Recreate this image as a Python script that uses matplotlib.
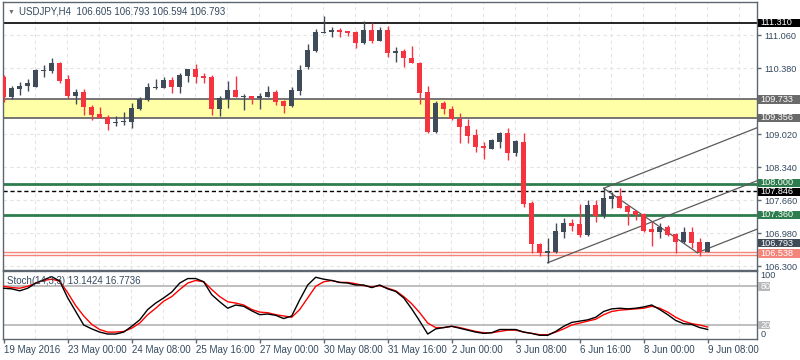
import matplotlib
matplotlib.use("Agg")
import matplotlib.pyplot as plt
import matplotlib.transforms as mtransforms
from matplotlib.patches import Rectangle
import numpy as np

# -----------------------------
# Data (USDJPY H4)
# -----------------------------
opens = [110.202, 109.790, 109.949, 110.010, 109.992, 110.325, 110.319, 110.490, 110.155, 109.811,
         109.881, 109.585, 109.434, 109.367, 109.243, 109.264, 109.276, 109.537, 109.723, 109.963,
         109.976, 110.134, 109.996, 110.223, 110.360, 110.216, 110.190, 109.537, 109.737, 109.928,
         109.778, 109.805, 109.758, 109.790, 109.881, 109.702, 109.599, 109.914, 110.408, 110.737,
         111.107, 111.116, 111.163, 111.142, 111.116, 110.889, 111.163, 110.943, 111.163, 110.683,
         110.731, 110.581, 110.478, 109.881, 109.070, 109.667, 109.537, 109.332, 109.188, 109.002,
         108.776, 108.714, 108.864, 109.050, 108.626, 108.864, 107.597, 106.760, 106.568, 106.601,
         107.013, 107.185, 107.171, 106.945, 107.562, 107.336, 107.692, 107.753, 107.541, 107.445,
         107.377, 107.062, 107.013, 107.116, 106.959, 106.807, 107.007, 106.795, 106.605]
highs = [110.237, 110.010, 110.099, 110.155, 110.360, 110.443, 110.580, 110.504, 110.237, 109.943,
         109.943, 109.620, 109.585, 109.414, 109.393, 109.482, 109.655, 109.784, 110.078, 110.148,
         110.190, 110.190, 110.272, 110.360, 110.463, 110.284, 110.237, 109.805, 110.120, 110.216,
         109.846, 109.805, 109.860, 110.010, 109.928, 109.723, 109.984, 110.443, 110.875, 111.177,
         111.451, 111.218, 111.210, 111.142, 111.148, 111.348, 111.300, 111.231, 111.245, 110.819,
         110.766, 110.834, 110.511, 110.010, 109.702, 109.708, 109.599, 109.449, 109.325, 109.120,
         108.864, 108.914, 109.070, 109.140, 108.900, 109.037, 107.651, 106.774, 106.877, 107.185,
         107.301, 107.268, 107.582, 107.665, 107.665, 107.906, 107.836, 107.906, 107.562, 107.459,
         107.404, 107.219, 107.185, 107.150, 106.980, 107.116, 107.116, 106.877, 106.793]
lows = [109.687, 109.737, 109.825, 109.914, 109.990, 110.202, 110.284, 110.078, 109.770, 109.634,
        109.414, 109.311, 109.346, 109.105, 109.188, 109.208, 109.153, 109.517, 109.708, 109.943,
        109.963, 109.860, 109.873, 110.099, 110.066, 110.066, 109.414, 109.393, 109.552, 109.778,
        109.517, 109.640, 109.537, 109.784, 109.620, 109.461, 109.585, 109.825, 110.360, 110.716,
        111.107, 111.025, 111.025, 111.046, 110.786, 110.869, 110.889, 110.943, 110.601, 110.498,
        110.408, 110.478, 109.640, 109.050, 109.050, 109.435, 109.311, 108.832, 108.844, 108.659,
        108.509, 108.714, 108.741, 108.488, 108.576, 107.527, 106.581, 106.519, 106.375, 106.581,
        106.877, 107.033, 106.910, 106.924, 107.219, 107.288, 107.507, 107.507, 107.150, 107.253,
        107.013, 106.725, 106.877, 106.924, 106.581, 106.774, 106.671, 106.513, 106.594]
closes = [109.790, 109.963, 110.010, 110.078, 110.340, 110.340, 110.478, 110.113, 109.811, 109.887,
          109.585, 109.414, 109.346, 109.223, 109.276, 109.297, 109.552, 109.737, 109.990, 109.990,
          110.134, 109.996, 110.237, 110.360, 110.202, 110.181, 109.537, 109.758, 109.928, 109.778,
          109.805, 109.737, 109.805, 109.893, 109.688, 109.599, 109.928, 110.340, 110.751, 111.128,
          111.122, 111.163, 111.128, 111.107, 110.889, 111.163, 110.943, 111.163, 110.683, 110.731,
          110.581, 110.478, 109.873, 109.070, 109.667, 109.531, 109.325, 109.173, 108.982, 108.762,
          108.729, 108.899, 109.050, 108.626, 108.879, 107.583, 106.753, 106.581, 106.616, 107.027,
          107.185, 107.130, 106.945, 107.562, 107.336, 107.700, 107.753, 107.507, 107.424, 107.356,
          107.027, 107.013, 107.116, 106.945, 106.807, 107.007, 106.774, 106.601, 106.793]

stoch_k = [77, 76, 73, 77, 85, 90, 95, 88, 62, 41,
           20, 14, 9, 6, 6, 9, 18, 28, 44, 54,
           62, 71, 85, 92, 92, 87, 67, 56, 46, 51,
           49, 42, 36, 37, 35, 30, 34, 59, 82, 94,
           91, 89, 86, 85, 82, 82, 78, 82, 76, 72,
           62, 45, 26, 6, 14, 16, 18, 15, 12, 9,
           7, 8, 13, 13, 13, 9, 7, 4, 4, 10,
           18, 24, 26, 28, 32, 41, 45, 46, 45, 46,
           48, 51, 44, 36, 27, 22, 21, 16, 13.14]
stoch_d = [80, 78, 77, 80, 85, 89, 91, 88, 70, 50,
           34, 21, 13, 9, 9, 10, 15, 23, 36, 46,
           57, 64, 75, 85, 89, 87, 75, 64, 56, 54,
           51, 44, 40, 39, 36, 34, 32, 44, 62, 80,
           87, 89, 86, 86, 84, 81, 79, 81, 77, 73,
           64, 53, 39, 23, 16, 16, 18, 16, 13, 10,
           8, 8, 10, 12, 12, 9, 7, 5, 5, 9,
           14, 20, 23, 26, 29, 36, 41, 43, 44, 45,
           46, 49, 46, 40, 32, 26, 22, 20, 16.77]

x_label_bars = [0, 8, 16, 24, 32, 40, 48, 56, 64, 72, 80, 88]
x_labels = ["19 May 2016", "23 May 00:00", "24 May 08:00", "25 May 16:00",
            "27 May 00:00", "30 May 08:00", "31 May 16:00", "2 Jun 00:00",
            "3 Jun 08:00", "6 Jun 16:00", "8 Jun 00:00", "9 Jun 08:00"]
price_ticks = [106.300, 106.980, 107.660, 108.340, 109.020, 109.700, 110.380, 111.060]
hidden_ticks = [109.700]   # covered by the 109.733 tag in the original

# horizontal levels
zone_low, zone_high = 109.356, 109.733
top_line = 111.310
green_levels = [108.000, 107.360]
dashed_level = 107.846
support_levels = [106.538, 106.585]

# trend lines: (bar, price) anchor pairs
trend_lines = [
    ([68, 94.4], [106.375, 108.076]),
    ([75, 94.4], [107.906, 109.167]),
    ([75, 86.7], [107.906, 106.581]),
    ([86.7, 94.4], [106.581, 107.080]),
]

# right-side price tags: (price, text, background)
tags = [
    (111.310, "111.310", "#000000"),
    (109.733, "109.733", "#6a6a6a"),
    (109.356, "109.356", "#6a6a6a"),
    (108.020, "108.000", "#2e7d4f"),
    (107.835, "107.846", "#000000"),
    (107.360, "107.360", "#2e7d4f"),
    (106.780, "106.793", "#404b5a"),
    (106.560, "106.538", "#f4857a"),
]

# -----------------------------
# Style
# -----------------------------
plt.rcParams["font.family"] = ["Liberation Sans", "DejaVu Sans"]
TXT = "#34495e"
FRAME = "#5c6670"
GRID = "#e4e4e4"
BULL = "#404b5a"
BEAR = "#f5343f"
RFS = 6.6  # right-axis font size

W, H = 800, 360
fig = plt.figure(figsize=(W / 100, H / 100), dpi=100)


def px_axes(l, t, r, b):
    return fig.add_axes([l / W, 1 - b / H, (r - l) / W, (b - t) / H])


ax = px_axes(3, 2, 757, 269.5)
st = px_axes(3, 271, 757, 339)

xlim = (-0.09, 94.16)
idx = np.arange(len(opens))

for a in (ax, st):
    a.set_xlim(*xlim)
    for s in a.spines.values():
        s.set_color(FRAME)
        s.set_linewidth(1)
    for g in range(4, 95, 4):
        a.axvline(g - 0.09, color=GRID, lw=0.8, ls=(0, (3, 3)), zorder=0)

# -----------------------------
# Main price panel
# -----------------------------
ax.set_ylim(106.235, 111.739)
for p in price_ticks:
    ax.axhline(p, color=GRID, lw=0.8, ls=(0, (3, 3)), zorder=0)

ax.axhspan(zone_low, zone_high, color="#ffffa8", zorder=1, lw=0)
ax.axhline(zone_low, color="#6a6a6a", lw=1.3, zorder=2)
ax.axhline(zone_high, color="#6a6a6a", lw=1.3, zorder=2)
ax.axhline(top_line, color="black", lw=1.2, zorder=2)
for g in green_levels:
    ax.axhline(g, color="#2e7d4f", lw=2, zorder=2)
ax.axhline(dashed_level, color="black", lw=1, ls=(0, (3, 2)), zorder=2)
for s in support_levels:
    ax.axhline(s, color="#f4857a", lw=1, zorder=2)

for xs, ys in trend_lines:
    ax.plot(xs, ys, color="#5a5a5a", lw=0.9, zorder=2)

for i in idx:
    o, h, l, c = opens[i], highs[i], lows[i], closes[i]
    col = BULL if c >= o else BEAR
    ax.vlines(i, l, h, color=col, lw=1, zorder=3)
    ax.bar(i, max(abs(c - o), 0.012), bottom=min(o, c), width=0.64,
           color=col, lw=0, zorder=4)

ax.set_xticks([])
ax.yaxis.tick_right()
ax.set_yticks(price_ticks)
ax.set_yticklabels(["" if p in hidden_ticks else f"{p:.3f}" for p in price_ticks])
ax.tick_params(axis="y", length=3, width=1, color=FRAME, pad=2,
               labelsize=RFS, labelcolor=TXT)

tr = mtransforms.blended_transform_factory(ax.transAxes, ax.transData)
for price, text, bg in tags:
    ax.add_patch(Rectangle((1.0015, price - 0.087), 0.06, 0.174, transform=tr,
                           facecolor=bg, edgecolor="none", clip_on=False, zorder=10))
    ax.text(1.0047, price, text, transform=tr, ha="left", va="center",
            fontsize=RFS, color="white", clip_on=False, zorder=11)

# -----------------------------
# Stochastic panel
# -----------------------------
st.set_ylim(-1.7, 103.7)
st.axhline(80, color="#b4b4b4", lw=1.2, zorder=1)
st.axhline(20, color="#b4b4b4", lw=1.2, zorder=1)
st.plot(idx, stoch_d, color="#ff0000", lw=1, zorder=3)
st.plot(idx, stoch_k, color="black", lw=1, zorder=4)

st.set_yticks([])
st.set_xticks(x_label_bars)
st.set_xticklabels(x_labels, ha="left")
st.tick_params(axis="x", length=3, width=1, color=FRAME, pad=1.5,
               labelsize=7, labelcolor=TXT)

trs = mtransforms.blended_transform_factory(st.transAxes, st.transData)
st.text(1.0047, 103, "100", transform=trs, ha="left", va="top",
        fontsize=RFS, color=TXT, clip_on=False)
st.text(1.0047, -1.5, "0", transform=trs, ha="left", va="bottom",
        fontsize=RFS, color=TXT, clip_on=False)
for lvl in (80, 20):
    st.add_patch(Rectangle((1.0015, lvl - 6.6), 0.0155, 13.2, transform=trs,
                           facecolor="#b8b8b8", edgecolor="none", clip_on=False, zorder=10))
    st.text(1.0047, lvl, str(lvl), transform=trs, ha="left", va="center",
            fontsize=RFS, color="white", clip_on=False, zorder=11)

# -----------------------------
# Header texts
# -----------------------------
fig.text(8 / W, 1 - 12 / H, "\u25bc", fontsize=5, color="#707070", va="center")
fig.text(19 / W, 1 - 12 / H, "USDJPY,H4  106.605 106.793 106.594 106.793",
         fontsize=7, color=TXT, va="center")
fig.text(7 / W, 1 - 281 / H, "Stoch(14,3,3) 13.1424 16.7736",
         fontsize=7, color=TXT, va="center")

fig.savefig("out.png", dpi=100)
